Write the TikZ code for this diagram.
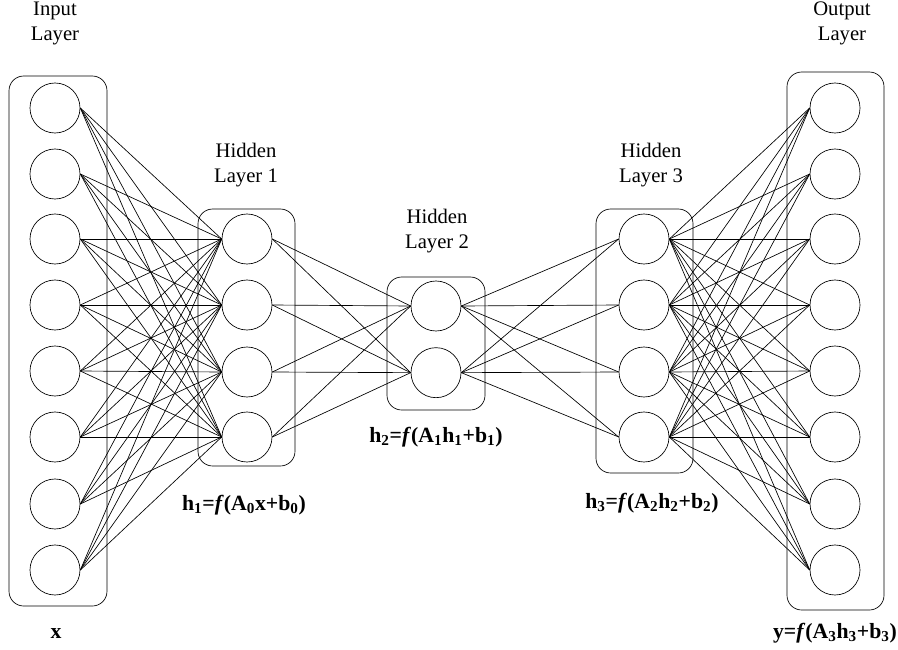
\documentclass[tikz,border=0pt]{standalone}
\usepackage{fontspec}
\setmainfont{Liberation Serif}
\usetikzlibrary{positioning}
\tikzset{neuron/.style={circle,draw,minimum size=37.5pt,inner sep=0pt},
  layerbox/.style={draw,rounded corners=11pt},
  title/.style={align=center,font=\fontsize{15.5}{18.75}\selectfont},
  eqn/.style={font=\fontsize{16.3}{18}\selectfont\bfseries},}

\begin{document}
\begin{tikzpicture}[x=0.75pt,y=-0.75pt,line width=0.5pt]
          \useasboundingbox (0,0) rectangle (898,649);

          % input and output layers
          \foreach \k/\y in {1/108,2/174,3/239,4/305,5/371,6/437,7/504,8/570}{
            \node[neuron] (i\k) at (55,\y) {};
            \node[neuron] (o\k) at (835,\y) {};
          }
          % hidden layers 1 and 3
          \foreach \k/\y in {1/239,2/305,3/372,4/437}{
            \node[neuron] (a\k) at (247,\y) {};
            \node[neuron] (c\k) at (644,\y) {};
          }
          % hidden layer 2
          \node[neuron] (b1) at (436,306) {};
          \node[neuron] (b2) [below = 12pt of b1] {};

          \draw[layerbox] (9,76) rectangle (107,606);
          \draw[layerbox] (198,209) rectangle (295,466);
          \draw[layerbox] (387,277) rectangle (485,410);
          \draw[layerbox] (596,209) rectangle (693,473);
          \draw[layerbox] (787,72) rectangle (884,610);

          \foreach \i in {1,...,8}
            \foreach \j in {1,...,4}{
              \draw (i\i.east) -- (a\j.west);
              \draw (c\j.east) -- (o\i.west);
            }
          \foreach \i in {1,...,4}
            \foreach \j in {1,2}{
              \draw (a\i.east) -- (b\j.west);
              \draw (b\j.east) -- (c\i.west);
            }

          \node[title] (tin) at (55,23) {Input\\Layer};
          \node[title] (th1) at (246,165) {Hidden\\Layer 1};
          \node[title] (th2) at (437,231) {Hidden\\Layer 2};
          \node[title] (th3) at (651,165) {Hidden\\Layer 3};
          \node[title] (tout) at (842,23) {Output\\Layer};

          \node[eqn] (ex) at (56,634) {x};
          \node[eqn] (eh1) at (244,505) {h\textsubscript{1}=\textit{f}(A\textsubscript{0}x+b\textsubscript{0})};
          \node[eqn] (eh2) at (436,437) {h\textsubscript{2}=\textit{f}(A\textsubscript{1}h\textsubscript{1}+b\textsubscript{1})};
          \node[eqn] (eh3) at (652,503) {h\textsubscript{3}=\textit{f}(A\textsubscript{2}h\textsubscript{2}+b\textsubscript{2})};
          \node[eqn] (ey) at (835,633) {y=\textit{f}(A\textsubscript{3}h\textsubscript{3}+b\textsubscript{3})};
        \end{tikzpicture}
\end{document}
